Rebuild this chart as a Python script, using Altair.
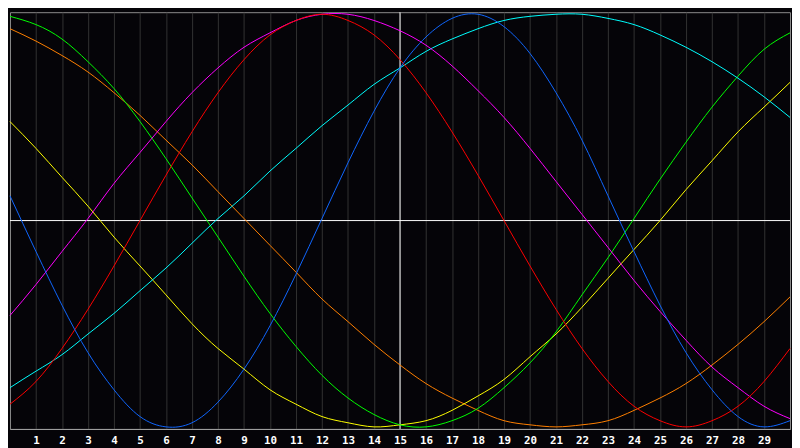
import altair as alt
import pandas as pd

# x positions (one sample per unit) and tick labels
x_vals = list(range(31))
tick_vals = list(range(1, 30))

# series values at x = 0..30
green = [0.99, 0.95, 0.88, 0.77, 0.64, 0.48, 0.30, 0.11, -0.08, -0.27, -0.45, -0.61, -0.75,
         -0.86, -0.94, -0.99, -1.00, -0.97, -0.91, -0.81, -0.69, -0.54, -0.36, -0.18, 0.01,
         0.20, 0.38, 0.55, 0.70, 0.83, 0.91]
orange = [0.93, 0.87, 0.80, 0.72, 0.62, 0.51, 0.39, 0.27, 0.14, 0.01, -0.12, -0.25, -0.38,
          -0.49, -0.60, -0.70, -0.79, -0.86, -0.92, -0.97, -0.99, -1.00, -0.99, -0.97, -0.92,
          -0.86, -0.79, -0.70, -0.60, -0.49, -0.37]
yellow = [0.48, 0.35, 0.21, 0.07, -0.08, -0.22, -0.36, -0.50, -0.62, -0.72, -0.82, -0.89, -0.95,
          -0.98, -1.00, -0.99, -0.97, -0.92, -0.85, -0.77, -0.66, -0.55, -0.42, -0.28, -0.14,
          0.00, 0.15, 0.29, 0.43, 0.55, 0.67]
magenta = [-0.46, -0.31, -0.15, 0.01, 0.18, 0.33, 0.48, 0.62, 0.74, 0.84, 0.91, 0.97, 1.00,
           1.00, 0.97, 0.92, 0.85, 0.75, 0.63, 0.50, 0.35, 0.19, 0.03, -0.13, -0.29, -0.44,
           -0.58, -0.71, -0.81, -0.90, -0.96]
red = [-0.89, -0.78, -0.62, -0.43, -0.22, 0.00, 0.22, 0.43, 0.62, 0.78, 0.90, 0.97, 1.00,
       0.97, 0.90, 0.78, 0.62, 0.43, 0.22, 0.00, -0.22, -0.43, -0.62, -0.78, -0.90, -0.97,
       -1.00, -0.97, -0.90, -0.78, -0.62]
cyan = [-0.81, -0.73, -0.65, -0.55, -0.45, -0.34, -0.23, -0.11, 0.01, 0.12, 0.24, 0.35, 0.46,
        0.56, 0.66, 0.74, 0.82, 0.88, 0.93, 0.97, 0.99, 1.00, 1.00, 0.98, 0.95, 0.90, 0.84,
        0.77, 0.69, 0.60, 0.50]
blue = [0.12, -0.15, -0.41, -0.64, -0.82, -0.95, -1.00, -0.98, -0.88, -0.72, -0.51, -0.26, 0.01,
        0.28, 0.53, 0.74, 0.89, 0.98, 1.00, 0.94, 0.81, 0.62, 0.39, 0.12, -0.15, -0.41, -0.64,
        -0.82, -0.95, -1.00, -0.97]

# white reference cross lines: vertical at x = 15, horizontal at y = 0
cross_v_x = [15, 15]
cross_v_y = [-1.01, 1.01]
cross_h_x = [0, 30]
cross_h_y = [0, 0]

names = ["vline", "hline", "orange", "yellow", "green", "cyan", "magenta", "red", "blue"]
colors = ["#ffffff", "#ffffff", "#ff7f00", "#ffff00", "#00ff00", "#00ffff", "#ff00ff",
          "#ff0000", "#0f66ff"]
series = {"green": (x_vals, green), "orange": (x_vals, orange), "yellow": (x_vals, yellow),
          "magenta": (x_vals, magenta), "red": (x_vals, red), "cyan": (x_vals, cyan),
          "blue": (x_vals, blue), "vline": (cross_v_x, cross_v_y),
          "hline": (cross_h_x, cross_h_y)}

rows = []
for n in names:
    xs, ys = series[n]
    for xv, yv in zip(xs, ys):
        rows.append({"x": xv, "y": yv, "s": n})
df = pd.DataFrame(rows)

chart = alt.Chart(df).mark_line(interpolate="natural", strokeWidth=1).encode(
    x=alt.X("x:Q", scale=alt.Scale(domain=[0, 30], nice=False),
            axis=alt.Axis(values=tick_vals, title=None, grid=True, ticks=False)),
    y=alt.Y("y:Q", scale=alt.Scale(domain=[-1.01, 1.01], nice=False), axis=None),
    color=alt.Color("s:N", scale=alt.Scale(domain=names, range=colors), legend=None),
).properties(
    width=792, height=440, background="#050408", padding=0,
    autosize=alt.AutoSizeParams(type="fit", contains="padding"),
).configure_view(
    stroke="#8c8c8c"
).configure_axis(
    domainColor="#a0a0a0",
    gridColor="#333333",
    labelColor="#ffffff",
    labelFont="DejaVu Sans Mono",
    labelFontWeight="bold",
    labelFontSize=11,
    labelPadding=6,
)

chart.save("out.html", embed_options={"renderer": "svg", "actions": False})
